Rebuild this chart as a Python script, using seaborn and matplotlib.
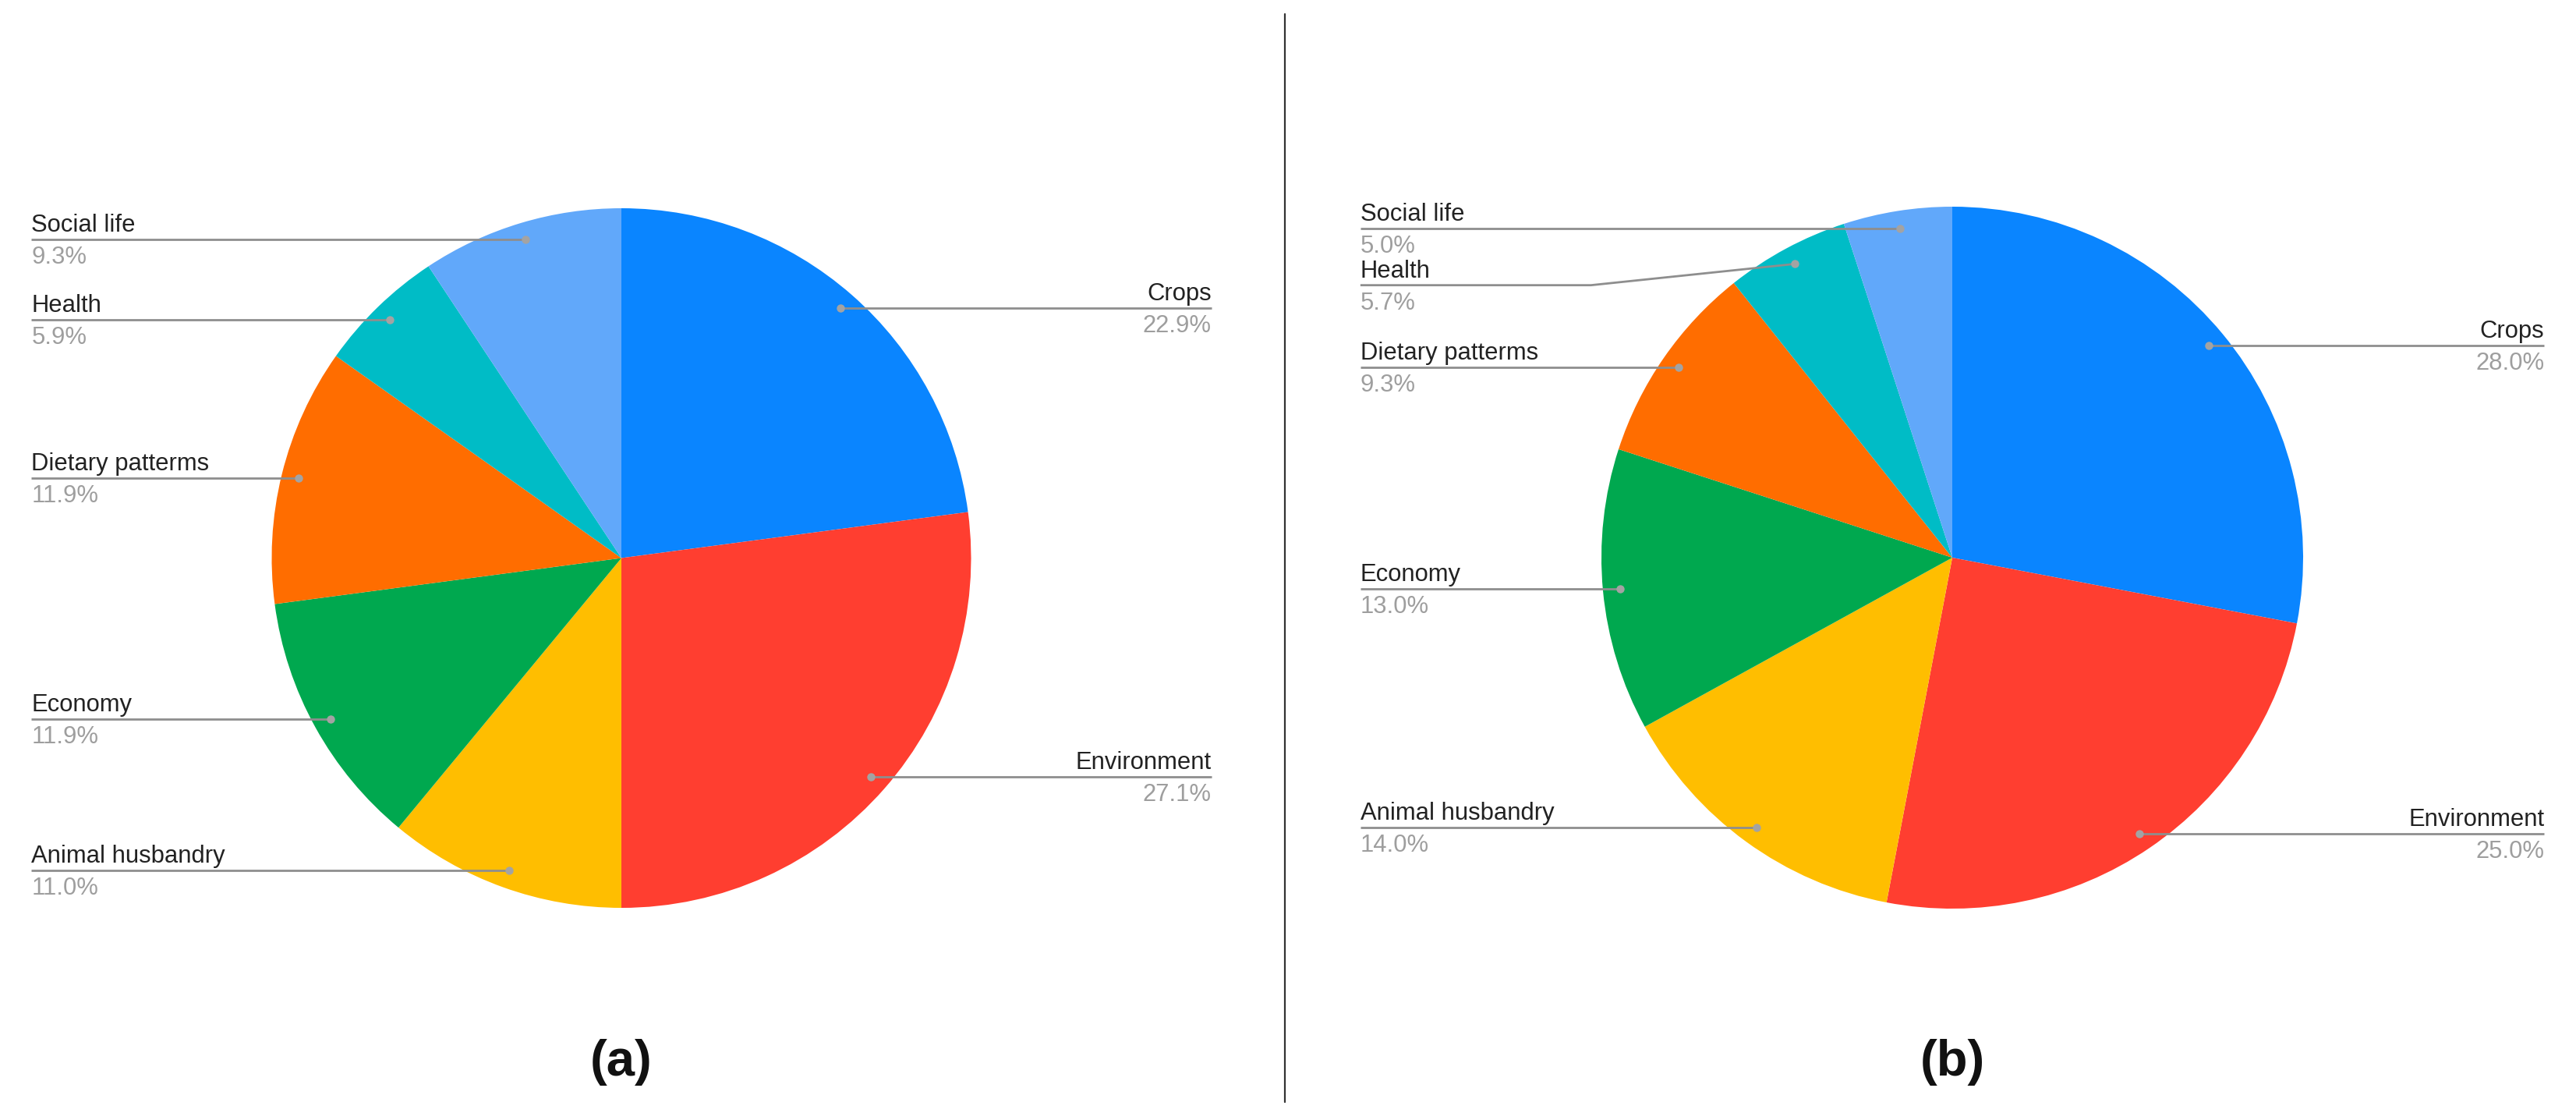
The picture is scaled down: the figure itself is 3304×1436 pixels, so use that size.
import matplotlib
matplotlib.use("Agg")
import matplotlib.pyplot as plt
import numpy as np
import seaborn as sns

# slice order, clockwise from 12 o'clock
categories = ["Crops", "Environment", "Animal husbandry", "Economy",
              "Dietary patterms", "Health", "Social life"]
shares_a = [22.9, 27.1, 11.0, 11.9, 11.9, 5.9, 9.3]
shares_b = [28.0, 25.0, 14.0, 13.0, 9.3, 5.7, 5.0]
panel_tags = ["(a)", "(b)"]
slice_colors = ["#0A85FF", "#FF3E30", "#FFBE00", "#00A84F",
                "#FF6D00", "#00BCC6", "#61A8FA"]

W, H = 3304, 1436  # canvas in pixels, axes use the same units


def draw_panel(ax, values, cx, cy, radius, tag, palette):
    wedges, _ = ax.pie(values, colors=palette, startangle=90, counterclock=False,
                       radius=radius, center=(cx, cy),
                       wedgeprops=dict(linewidth=0))

    anchors = []
    for w, name, v in zip(wedges, categories, values):
        mid = np.deg2rad((w.theta1 + w.theta2) / 2)
        px = cx + 0.95 * radius * np.cos(mid)
        py = cy + 0.95 * radius * np.sin(mid)
        anchors.append((name, v, px, py))

    gap = 0.162 * radius
    for side in (-1, 1):
        group = [a for a in anchors if np.sign(a[2] - cx) == side]
        group.sort(key=lambda a: -a[3])
        prev = None
        for name, v, px, py in group:
            ly = py if prev is None else min(py, prev - gap)
            prev = ly
            tx = cx + side * 1.687 * radius
            ex = cx + side * 1.03 * radius
            ax.plot([tx, ex, px], [ly, ly, py], color="#8E8E8E", lw=2.0,
                    solid_capstyle="butt", zorder=3)
            ax.plot(px, py, "o", ms=7.5, color="#A3A3A3", mec="none", zorder=4)
            ha = "left" if side < 0 else "right"
            ax.text(tx, ly + 10, name, ha=ha, va="baseline", fontsize=22.3,
                    color="#222222", zorder=5)
            ax.text(tx, ly - 8, f"{v:.1f}%", ha=ha, va="top", fontsize=22.3,
                    color="#9E9E9E", zorder=5)

    ax.text(cx, H - 1362, tag, ha="center", va="center", fontsize=47,
            fontweight="bold", color="#111111")


sns.set_theme(style="white")
plt.rcParams["font.family"] = ["Liberation Sans", "DejaVu Sans"]
palette = sns.color_palette(slice_colors)

fig = plt.figure(figsize=(W / 100, H / 100), dpi=100)
ax = fig.add_axes([0, 0, 1, 1])

draw_panel(ax, shares_a, 797, H - 715.5, 448.5, panel_tags[0], palette)
draw_panel(ax, shares_b, 2504, H - 715, 450, panel_tags[1], palette)

# vertical divider between the panels
ax.plot([1648, 1648], [H - 18, H - 1413], color="#333333", lw=1.6)

ax.set_xlim(0, W)
ax.set_ylim(0, H)
ax.set_aspect("equal", adjustable="box")
ax.axis("off")

fig.savefig("out.png", dpi=100, facecolor="white")
plt.close(fig)
